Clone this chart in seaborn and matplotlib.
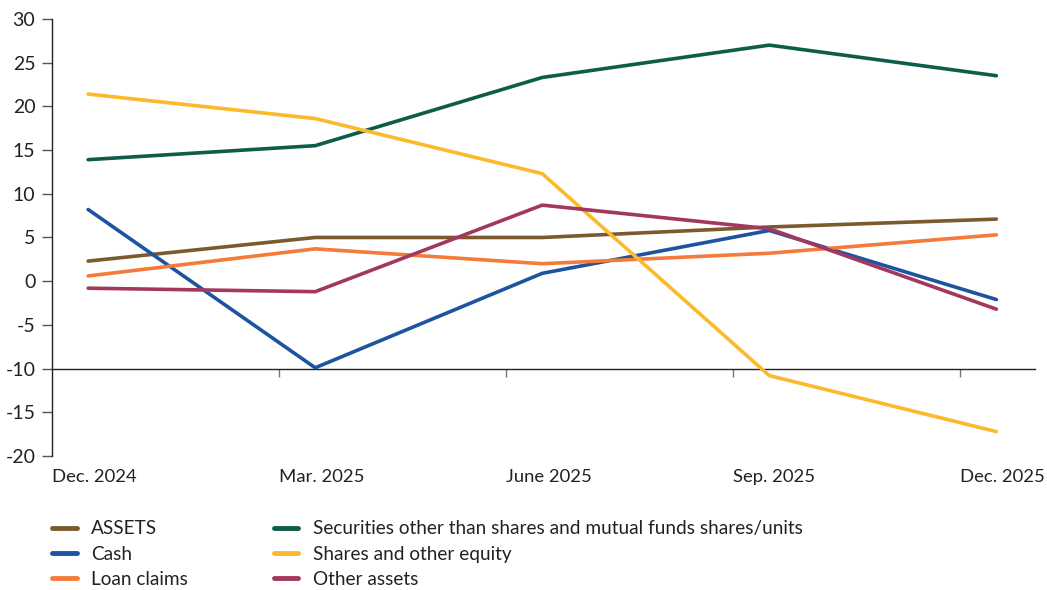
import numpy as np
import pandas as pd
import matplotlib
matplotlib.use('Agg')
import matplotlib.pyplot as plt
import seaborn as sns

# Data
periods = ['Dec. 2024', 'Mar. 2025', 'June 2025', 'Sep. 2025', 'Dec. 2025']
assets = [2.3, 5.0, 5.0, 6.2, 7.1]
cash = [8.2, -9.9, 0.9, 5.8, -2.1]
loan_claims = [0.6, 3.7, 2.0, 3.2, 5.3]
securities = [13.9, 15.5, 23.3, 27.0, 23.5]
shares = [21.4, 18.6, 12.3, -10.8, -17.2]
other_assets = [-0.8, -1.2, 8.7, 6.0, -3.2]

series_names = ['ASSETS', 'Cash', 'Loan claims',
                'Securities other than shares and mutual funds shares/units',
                'Shares and other equity', 'Other assets']
series_values = [assets, cash, loan_claims, securities, shares, other_assets]
colors = ['#7B5A2E', '#1D54A0', '#F47B3A', '#0E5C4A', '#FDB92C', '#A3375F']

rows = []
for name, vals in zip(series_names, series_values):
    for i, v in enumerate(vals):
        rows.append({'pos': i, 'series': name, 'value': v})
df = pd.DataFrame(rows)

sns.set_style('white')
plt.rcParams['font.family'] = ['Lato', 'DejaVu Sans']
plt.rcParams['axes.unicode_minus'] = False

fig = plt.figure(figsize=(10.47, 5.9), dpi=100)
ax = fig.add_axes([0.0497, 0.227, 0.9388, 0.741])

sns.lineplot(data=df, x='pos', y='value', hue='series', hue_order=series_names,
             palette=colors, linewidth=2.6, ax=ax, legend=False,
             solid_capstyle='round')

offset = 0.159
ax.set_xlim(-offset, 4.17)
ax.set_ylim(-20, 30)
ax.set_yticks(np.arange(-20, 31, 5))
ax.tick_params(axis='y', left=True, direction='out', length=7, width=1,
               color='#555555', pad=5, labelsize=14, labelcolor='#222222')
ax.set_xticks([i - offset for i in range(len(periods))])
ax.set_xticklabels(periods, ha='left')
ax.tick_params(axis='x', length=0, pad=9, labelsize=13.3, labelcolor='#222222')
ax.set_xlabel('')
ax.set_ylabel('')

for s in ['top', 'right', 'bottom']:
    ax.spines[s].set_visible(False)
ax.spines['left'].set_color('#222222')
ax.spines['left'].set_linewidth(1)

# horizontal axis line drawn at -10 with tick marks
sec = ax.secondary_xaxis(0.2)
sec.set_xticks([i - offset for i in range(1, len(periods))])
sec.set_xticklabels([])
sec.tick_params(axis='x', bottom=True, direction='out', length=6, width=1,
                color='#777777')
sec.spines['bottom'].set_color('#222222')
sec.spines['bottom'].set_linewidth(1)

handles = [plt.Line2D([], [], color=c, linewidth=3.5, solid_capstyle='round')
           for c in colors]
fig.legend(handles, series_names, ncol=2, loc='upper left',
           bbox_to_anchor=(0.0497, 0.118), frameon=False, fontsize=13.7,
           handlelength=1.3, handletextpad=0.75, columnspacing=4.5,
           labelspacing=0.43, borderaxespad=0, borderpad=0,
           labelcolor='#222222')

fig.savefig('out.png', dpi=100)
